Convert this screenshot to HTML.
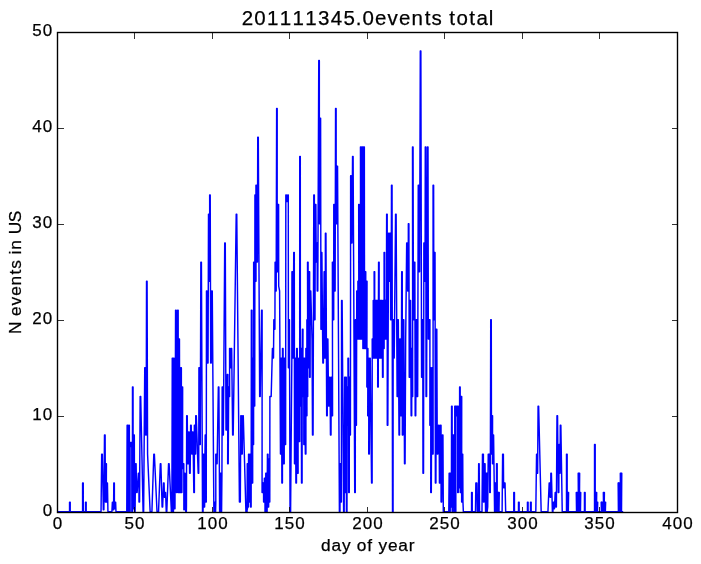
<!DOCTYPE html>
<html><head><meta charset="utf-8"><title>plot</title>
<style>
html,body{margin:0;padding:0;background:#fff;}
body{width:701px;height:564px;position:relative;overflow:hidden;font-family:"Liberation Sans",sans-serif;color:#000;}
svg{position:absolute;left:0;top:0;}
div{position:absolute;white-space:nowrap;}
.t{position:absolute;white-space:nowrap;filter:grayscale(1);-webkit-text-stroke:0.25px #000;}
.t i{display:inline-block;font-style:normal;text-align:center;}
</style></head><body>
<svg width="701" height="564" viewBox="0 0 701 564">
<polyline fill="none" stroke="#0000ff" stroke-width="1.45" stroke-linejoin="round" stroke-linecap="butt" points="57.50,511.70 69.55,511.70 69.56,502.10 70.22,502.10 70.23,511.70 82.58,511.70 82.59,482.90 83.25,482.90 83.26,511.70 85.51,511.70 85.52,502.10 86.18,502.10 86.19,511.70 101.04,511.70 101.68,454.10 102.32,454.10 103.32,509.78 103.88,509.78 104.49,434.90 105.13,434.90 105.36,502.10 105.92,502.10 105.87,463.70 106.43,463.70 106.25,502.10 106.81,502.10 106.89,482.90 107.45,482.90 107.94,511.70 111.90,511.70 112.38,502.10 112.94,502.10 113.02,509.78 113.58,509.78 113.79,482.90 114.35,482.90 114.42,508.82 114.98,508.82 115.06,502.10 115.62,502.10 115.98,511.70 126.77,511.70 127.12,425.30 127.68,425.30 127.76,511.70 128.32,511.70 128.78,425.30 129.34,425.30 129.55,511.70 130.11,511.70 130.06,442.58 130.62,442.58 130.57,446.42 131.13,446.42 131.21,442.58 131.77,442.58 131.85,511.70 132.41,511.70 132.49,386.90 133.05,386.90 133.12,508.82 133.68,508.82 133.76,434.90 134.32,434.90 134.53,511.70 135.09,511.70 135.55,463.70 136.11,463.70 136.57,492.50 137.13,492.50 138.36,473.30 138.92,473.30 139.00,502.10 139.56,502.10 140.15,396.50 140.71,396.50 143.08,511.70 143.64,511.70 144.74,367.70 145.30,367.70 145.64,434.90 146.20,434.90 146.53,281.30 147.09,281.30 147.58,454.10 150.13,511.70 151.92,511.70 153.81,454.10 154.37,454.10 157.02,511.70 158.55,511.70 160.32,463.70 160.88,463.70 162.10,506.90 162.66,506.90 163.51,482.90 164.07,482.90 164.40,497.30 164.96,497.30 165.04,492.50 165.60,492.50 166.25,511.70 166.81,511.70 168.55,463.70 169.11,463.70 171.38,511.70 171.89,511.70 172.25,358.10 172.81,358.10 172.89,511.70 173.45,511.70 173.53,358.10 174.09,358.10 174.42,508.82 174.98,508.82 175.57,310.10 176.13,310.10 176.47,492.50 177.03,492.50 177.61,310.10 178.17,310.10 178.25,492.50 178.81,492.50 178.89,338.90 179.45,338.90 179.78,492.50 180.34,492.50 180.81,367.70 181.37,367.70 181.32,492.50 181.88,492.50 182.08,386.90 182.64,386.90 182.59,468.50 183.15,468.50 183.23,463.70 183.79,463.70 183.87,509.78 184.43,509.78 184.51,473.30 185.07,473.30 185.78,511.70 186.34,511.70 186.45,506.90 186.68,415.70 187.24,415.70 187.70,463.70 188.26,463.70 188.59,432.02 189.15,432.02 189.61,473.30 190.17,473.30 190.64,425.30 191.20,425.30 191.78,454.10 192.34,454.10 192.42,432.02 192.98,432.02 193.83,492.50 194.39,492.50 194.34,425.30 194.90,425.30 195.10,454.10 195.66,454.10 195.74,415.70 196.30,415.70 198.17,473.30 198.73,473.30 198.93,367.70 199.49,367.70 199.70,444.50 200.26,444.50 200.85,262.10 201.41,262.10 202.51,511.70 203.07,511.70 203.40,454.10 203.96,454.10 204.04,506.90 204.60,506.90 204.96,454.10 205.19,434.90 205.75,434.90 205.70,502.10 206.26,502.10 206.47,290.90 207.03,290.90 207.49,362.90 208.05,362.90 208.51,214.10 209.07,214.10 209.15,281.30 209.71,281.30 209.66,194.90 210.22,194.90 210.68,362.90 211.24,362.90 211.70,290.90 212.26,290.90 213.87,511.70 214.43,511.70 214.51,502.10 215.07,502.10 215.02,511.70 215.58,511.70 215.81,502.10 215.79,454.10 216.35,454.10 216.55,463.70 217.11,463.70 218.34,386.90 218.90,386.90 219.62,511.70 220.18,511.70 220.38,473.30 220.94,473.30 221.02,511.70 221.58,511.70 221.94,473.30 222.17,386.90 222.73,386.90 222.81,434.90 223.37,434.90 224.72,242.90 225.28,242.90 226.00,430.10 226.56,430.10 227.28,374.42 227.84,374.42 227.66,463.70 228.22,463.70 228.68,386.90 229.24,386.90 229.06,396.50 229.62,396.50 229.57,348.50 230.13,348.50 230.34,367.70 230.90,367.70 231.11,348.50 231.67,348.50 232.64,434.90 233.20,434.90 236.21,214.10 236.77,214.10 239.43,502.10 240.32,502.10 240.81,415.70 241.37,415.70 241.70,454.10 242.26,454.10 242.72,415.70 243.28,415.70 245.91,511.70 246.47,511.70 246.55,502.10 247.11,502.10 247.47,508.82 246.51,511.70 247.07,511.70 247.27,463.70 247.83,463.70 247.91,506.90 248.47,506.90 248.55,454.10 249.11,454.10 249.19,502.10 249.75,502.10 249.95,454.10 250.51,454.10 250.59,506.90 251.15,506.90 251.36,310.10 251.92,310.10 252.12,482.90 252.68,482.90 252.64,358.10 253.20,358.10 253.02,444.50 253.58,444.50 253.66,262.10 254.22,262.10 254.17,406.10 254.73,406.10 254.93,194.90 255.49,194.90 255.44,281.30 256.00,281.30 255.95,185.30 256.51,185.30 256.85,262.10 257.41,262.10 257.74,137.30 258.30,137.30 259.66,396.50 260.22,396.50 261.57,310.10 262.13,310.10 262.08,492.50 262.64,492.50 262.98,482.90 263.54,482.90 263.61,502.10 264.17,502.10 264.38,478.10 264.94,478.10 265.02,511.70 265.58,511.70 265.78,473.30 266.34,473.30 266.55,511.70 267.11,511.70 267.44,454.10 268.00,454.10 268.08,506.90 268.64,506.90 268.72,458.90 269.28,458.90 269.23,502.10 269.79,502.10 269.89,396.50 271.17,396.50 272.42,348.50 272.98,348.50 272.93,358.10 273.49,358.10 273.83,319.70 274.39,319.70 274.34,329.30 274.90,329.30 275.10,262.10 275.66,262.10 275.61,290.90 276.17,290.90 276.64,108.50 277.20,108.50 277.15,271.70 277.71,271.70 278.04,204.50 278.60,204.50 278.70,286.10 279.60,290.90 280.47,454.10 281.03,454.10 280.98,358.10 281.54,358.10 281.87,482.90 282.43,482.90 282.51,348.50 283.07,348.50 283.66,463.70 284.22,463.70 284.30,358.10 284.86,358.10 285.06,444.50 285.62,444.50 285.83,194.90 286.39,194.90 286.72,201.62 287.28,201.62 287.74,194.90 288.30,194.90 288.38,367.70 288.94,367.70 288.89,319.70 289.45,319.70 290.04,511.70 290.60,511.70 291.85,358.10 291.96,271.70 292.52,271.70 292.59,358.10 293.15,358.10 293.74,252.50 294.30,252.50 294.51,463.70 295.07,463.70 295.02,358.10 295.58,358.10 295.68,434.90 295.91,482.90 296.47,482.90 296.58,358.10 296.68,348.50 297.24,348.50 297.47,425.30 297.57,473.30 298.13,473.30 297.96,367.70 298.52,367.70 298.34,396.50 298.90,396.50 298.72,358.10 299.28,358.10 299.11,441.62 299.67,441.62 299.74,156.50 300.30,156.50 300.38,406.10 300.94,406.10 300.76,348.50 301.32,348.50 301.43,425.30 301.53,482.90 302.09,482.90 302.19,358.10 302.42,329.30 302.98,329.30 302.81,396.50 303.37,396.50 303.19,358.10 303.75,358.10 303.83,444.50 304.39,444.50 304.21,358.10 304.77,358.10 304.75,367.70 305.13,434.90 305.36,454.10 305.92,454.10 305.87,348.50 306.43,348.50 306.38,415.70 306.94,415.70 306.89,319.70 307.45,319.70 307.15,396.50 307.71,396.50 307.53,262.10 308.09,262.10 308.17,367.70 308.73,367.70 309.06,271.70 309.62,271.70 309.57,377.30 310.13,377.30 310.21,290.90 310.77,290.90 312.02,338.90 312.51,434.90 313.07,434.90 313.79,194.90 314.35,194.90 314.43,319.70 314.99,319.70 315.32,204.50 315.88,204.50 316.21,262.10 316.77,262.10 316.60,242.90 317.16,242.90 317.23,290.90 317.79,290.90 318.77,60.50 319.33,60.50 319.40,223.70 319.96,223.70 320.04,118.10 320.60,118.10 320.94,329.30 321.50,329.30 321.32,252.50 321.88,252.50 322.85,362.90 323.41,362.90 324.13,271.70 324.69,271.70 324.64,358.10 325.20,358.10 325.40,233.30 325.96,233.30 326.68,415.70 327.24,415.70 327.32,338.90 327.88,338.90 328.60,406.10 329.16,406.10 329.44,377.30 330.00,377.30 330.46,434.90 331.02,434.90 331.23,377.30 331.79,377.30 332.00,415.70 332.56,415.70 332.38,262.10 332.94,262.10 333.15,319.70 333.71,319.70 333.78,204.50 334.34,204.50 334.55,290.90 335.11,290.90 335.57,108.50 336.13,108.50 336.21,223.70 336.77,223.70 336.98,166.10 337.54,166.10 339.40,511.70 339.96,511.70 340.17,463.70 340.73,463.70 340.81,502.10 341.37,502.10 341.57,300.50 342.13,300.50 343.61,511.70 344.17,511.70 344.64,377.30 345.20,377.30 345.15,492.50 345.71,492.50 345.78,377.30 346.34,377.30 346.42,511.70 346.98,511.70 347.19,386.90 347.75,386.90 347.57,425.30 348.13,425.30 347.96,358.10 348.52,358.10 348.72,492.50 349.28,492.50 349.36,377.30 349.92,377.30 349.87,434.90 350.43,434.90 350.64,175.70 351.20,175.70 351.40,242.90 351.96,242.90 352.55,156.50 353.11,156.50 354.72,492.50 355.28,492.50 355.36,319.70 355.92,319.70 355.87,425.30 356.43,425.30 356.76,290.90 357.32,290.90 357.40,338.90 357.96,338.90 357.91,281.30 358.47,281.30 358.30,338.90 358.86,338.90 358.68,204.50 359.24,204.50 359.19,338.90 359.75,338.90 359.70,271.70 360.26,271.70 360.08,338.90 360.64,338.90 360.47,146.90 361.03,146.90 361.23,338.90 361.79,338.90 362.02,262.10 362.13,146.90 362.69,146.90 362.89,348.50 363.45,348.50 363.68,271.70 363.79,146.90 364.35,146.90 364.55,348.50 365.11,348.50 365.19,271.70 365.75,271.70 365.83,348.50 366.39,348.50 366.47,281.30 367.03,281.30 366.85,386.90 367.41,386.90 367.36,348.50 367.92,348.50 367.74,415.70 368.30,415.70 368.25,358.10 368.81,358.10 368.76,454.10 369.32,454.10 369.66,358.10 370.22,358.10 371.57,482.90 372.13,482.90 372.21,338.90 372.77,338.90 372.72,358.10 373.28,358.10 373.23,300.50 373.79,300.50 373.74,358.10 374.30,358.10 374.13,271.70 374.69,271.70 374.64,358.10 375.20,358.10 375.15,300.50 375.71,300.50 375.66,358.10 376.22,358.10 376.17,300.50 376.73,300.50 376.68,358.10 377.24,358.10 377.19,300.50 377.75,300.50 377.70,386.90 378.26,386.90 378.36,329.30 378.59,262.10 379.15,262.10 379.11,358.10 379.67,358.10 379.62,300.50 380.18,300.50 380.13,358.10 380.69,358.10 380.64,300.50 381.20,300.50 381.15,358.10 381.71,358.10 381.66,300.50 382.22,300.50 382.45,348.50 382.55,377.30 383.11,377.30 383.06,300.50 383.62,300.50 383.57,348.50 384.13,348.50 384.08,252.50 384.64,252.50 384.59,338.90 385.15,338.90 385.11,300.50 385.67,300.50 385.62,338.90 386.18,338.90 386.41,300.50 386.64,214.10 387.20,214.10 387.28,425.30 387.84,425.30 388.55,233.30 389.11,233.30 389.32,281.30 389.88,281.30 389.96,233.30 390.52,233.30 390.60,319.70 391.16,319.70 391.49,185.30 392.05,185.30 392.51,511.70 393.07,511.70 393.15,319.70 393.71,319.70 393.66,358.10 394.22,358.10 395.57,214.10 396.13,214.10 397.11,396.50 397.67,396.50 397.74,319.70 398.30,319.70 399.02,434.90 399.58,434.90 399.79,338.90 400.35,338.90 400.68,415.70 401.24,415.70 401.70,271.70 402.26,271.70 402.34,434.90 402.90,434.90 403.23,319.70 403.79,319.70 404.51,463.70 405.07,463.70 405.68,338.90 406.68,242.90 407.24,242.90 407.70,290.90 408.26,290.90 408.34,223.70 408.90,223.70 409.23,377.30 409.79,377.30 410.00,300.50 410.56,300.50 411.15,415.70 411.71,415.70 411.74,348.50 412.30,348.50 412.12,396.50 412.68,396.50 412.51,146.90 413.07,146.90 413.40,319.70 413.96,319.70 414.29,262.10 414.85,262.10 415.19,415.70 415.75,415.70 416.21,319.70 416.77,319.70 417.10,396.50 417.66,396.50 418.25,185.30 418.81,185.30 419.02,271.70 419.58,271.70 420.30,50.90 420.86,50.90 421.57,377.30 422.13,377.30 422.21,319.70 422.77,319.70 422.98,473.30 423.54,473.30 423.87,242.90 424.43,242.90 424.51,281.30 425.07,281.30 425.27,146.90 425.83,146.90 426.04,396.50 426.60,396.50 426.96,271.70 427.44,146.90 428.00,146.90 428.34,338.90 428.90,338.90 429.36,319.70 429.92,319.70 429.87,425.30 430.43,425.30 430.25,367.70 430.81,367.70 430.76,492.50 431.32,492.50 431.78,367.70 432.34,367.70 432.55,454.10 433.11,454.10 433.06,185.30 433.62,185.30 433.83,319.70 434.39,319.70 434.47,252.50 435.03,252.50 435.36,482.90 435.92,482.90 436.25,329.30 436.81,329.30 437.27,454.10 437.83,454.10 438.55,425.30 439.11,425.30 439.44,482.90 440.00,482.90 440.47,425.30 441.03,425.30 441.10,502.10 441.66,502.10 442.38,434.90 442.94,434.90 443.30,511.70 448.79,511.70 449.15,473.30 449.71,473.30 449.66,511.70 450.22,511.70 450.30,473.30 450.86,473.30 450.81,506.90 451.37,506.90 451.57,406.10 452.13,406.10 452.21,511.70 452.77,511.70 452.72,434.90 453.28,434.90 453.23,506.90 453.79,506.90 453.87,434.90 454.43,434.90 454.25,511.70 454.81,511.70 454.76,406.10 455.32,406.10 455.28,511.70 455.84,511.70 455.79,406.10 456.35,406.10 456.42,415.70 456.98,415.70 457.06,406.10 457.62,406.10 457.70,492.50 458.26,492.50 458.59,406.10 459.15,406.10 458.98,487.70 459.54,487.70 459.62,386.90 460.18,386.90 460.25,492.50 460.81,492.50 461.15,396.50 461.71,396.50 461.66,502.10 462.22,502.10 462.17,454.10 462.73,454.10 462.96,502.10 463.34,511.70 471.56,511.70 471.57,492.50 472.23,492.50 472.24,511.70 475.47,511.70 475.85,482.90 476.88,482.90 477.26,511.70 478.41,511.70 478.66,463.70 479.17,463.70 479.56,511.70 481.98,511.70 482.49,454.10 483.39,454.10 483.49,502.10 484.05,502.10 484.28,463.70 485.05,463.70 485.43,502.10 485.57,511.70 486.13,511.70 485.59,473.30 486.15,473.30 486.11,511.22 486.67,511.22 486.62,473.30 487.18,473.30 486.64,511.70 487.20,511.70 487.73,506.90 488.24,454.10 489.51,454.10 489.74,492.50 490.30,492.50 490.72,319.70 491.28,319.70 491.49,454.10 492.05,454.10 492.00,415.70 492.56,415.70 492.51,463.70 493.07,463.70 493.02,434.90 493.58,434.90 494.57,511.70 494.87,511.70 494.61,482.90 495.17,482.90 494.87,511.22 495.43,511.22 495.13,482.90 495.69,482.90 495.43,511.70 496.53,511.70 496.54,463.70 497.20,463.70 497.21,511.70 498.19,511.70 497.93,492.50 498.49,492.50 498.32,511.22 498.88,511.22 498.70,492.50 499.26,492.50 499.00,511.70 502.11,511.70 502.62,454.10 503.38,454.10 503.61,487.70 504.17,487.70 504.41,482.90 505.04,482.90 505.68,511.70 513.77,511.70 513.78,492.50 514.44,492.50 514.45,511.70 518.49,511.70 518.50,502.10 519.16,502.10 519.17,511.70 527.43,511.70 527.44,502.10 528.10,502.10 528.11,511.70 530.49,511.70 530.50,502.10 531.16,502.10 531.17,511.70 535.81,511.70 536.55,454.10 537.11,454.10 537.06,473.30 537.62,473.30 538.08,406.10 538.64,406.10 541.17,511.70 547.94,511.70 549.19,482.90 549.75,482.90 550.08,497.30 550.64,497.30 550.85,473.30 551.41,473.30 552.38,511.70 552.94,511.70 553.28,502.10 553.84,502.10 553.91,508.82 554.47,508.82 555.19,492.50 555.75,492.50 555.83,506.90 556.39,506.90 556.98,415.70 557.54,415.70 558.26,492.50 558.82,492.50 559.02,444.50 559.58,444.50 559.53,473.30 560.09,473.30 560.30,425.30 560.86,425.30 562.24,511.70 566.49,511.70 566.50,454.10 567.16,454.10 567.17,511.70 568.28,511.70 568.02,492.50 568.58,492.50 568.32,511.70 576.53,511.70 576.27,492.50 576.83,492.50 576.53,511.22 577.09,511.22 576.79,492.50 577.35,492.50 577.09,511.70 578.45,511.70 578.19,473.30 578.75,473.30 578.64,511.22 579.20,511.22 579.08,473.30 579.64,473.30 579.38,511.70 580.43,511.70 580.17,492.50 580.73,492.50 580.47,511.70 584.45,511.70 584.46,492.50 585.12,492.50 585.13,511.70 594.53,511.70 594.54,444.50 595.20,444.50 595.21,511.70 596.39,511.70 596.13,492.50 596.69,492.50 596.43,511.70 597.41,511.70 597.15,502.10 597.71,502.10 597.45,511.70 601.43,511.70 601.17,502.10 601.73,502.10 601.49,511.22 602.05,511.22 601.81,502.10 602.37,502.10 602.11,511.70 603.60,511.70 603.34,492.50 603.90,492.50 603.59,511.22 604.15,511.22 603.85,492.50 604.41,492.50 604.15,511.70 605.32,511.70 605.06,502.10 605.62,502.10 605.36,511.70 618.41,511.70 618.15,482.90 618.71,482.90 618.47,511.22 619.03,511.22 618.79,482.90 619.35,482.90 619.09,511.70 620.58,511.70 620.32,473.30 620.88,473.30 620.76,511.22 621.32,511.22 621.21,473.30 621.77,473.30 621.51,511.70 623.20,511.70"/>
<g stroke="#000" stroke-opacity="0.8" stroke-width="1" shape-rendering="crispEdges"><line x1="134.5" y1="512.0" x2="134.5" y2="506.5"/><line x1="134.5" y1="33.0" x2="134.5" y2="38.5"/><line x1="212.5" y1="512.0" x2="212.5" y2="506.5"/><line x1="212.5" y1="33.0" x2="212.5" y2="38.5"/><line x1="289.5" y1="512.0" x2="289.5" y2="506.5"/><line x1="289.5" y1="33.0" x2="289.5" y2="38.5"/><line x1="367.5" y1="512.0" x2="367.5" y2="506.5"/><line x1="367.5" y1="33.0" x2="367.5" y2="38.5"/><line x1="444.5" y1="512.0" x2="444.5" y2="506.5"/><line x1="444.5" y1="33.0" x2="444.5" y2="38.5"/><line x1="522.5" y1="512.0" x2="522.5" y2="506.5"/><line x1="522.5" y1="33.0" x2="522.5" y2="38.5"/><line x1="599.5" y1="512.0" x2="599.5" y2="506.5"/><line x1="599.5" y1="33.0" x2="599.5" y2="38.5"/><line x1="58.0" y1="416.5" x2="63.5" y2="416.5"/><line x1="677.0" y1="416.5" x2="671.5" y2="416.5"/><line x1="58.0" y1="320.5" x2="63.5" y2="320.5"/><line x1="677.0" y1="320.5" x2="671.5" y2="320.5"/><line x1="58.0" y1="224.5" x2="63.5" y2="224.5"/><line x1="677.0" y1="224.5" x2="671.5" y2="224.5"/><line x1="58.0" y1="128.5" x2="63.5" y2="128.5"/><line x1="677.0" y1="128.5" x2="671.5" y2="128.5"/></g>
<rect x="57.5" y="32.5" width="620.0" height="480.0" fill="none" stroke="#000" stroke-width="1.39"/>
</svg>
<div class="t" style="left:240.98px;top:5.80px;font-size:20.5px;line-height:24px"><i style="width:12.72px">2</i><i style="width:12.72px">0</i><i style="width:12.72px">1</i><i style="width:12.72px">1</i><i style="width:12.72px">1</i><i style="width:12.72px">1</i><i style="width:12.72px">3</i><i style="width:12.72px">4</i><i style="width:12.72px">5</i><i style="width:6.36px">.</i><i style="width:12.72px">0</i><i style="width:12.30px">e</i><i style="width:11.84px">v</i><i style="width:12.30px">e</i><i style="width:12.68px">n</i><i style="width:7.84px">t</i><i style="width:10.42px">s</i><i style="width:6.36px">&nbsp;</i><i style="width:7.84px">t</i><i style="width:12.24px">o</i><i style="width:7.84px">t</i><i style="width:12.26px">a</i><i style="width:5.56px">l</i></div>
<div class="t" style="left:320.53px;top:534.51px;font-size:17.3px;line-height:20px"><i style="width:10.59px">d</i><i style="width:10.22px">a</i><i style="width:9.87px">y</i><i style="width:5.30px">&nbsp;</i><i style="width:10.20px">o</i><i style="width:5.87px">f</i><i style="width:5.30px">&nbsp;</i><i style="width:9.87px">y</i><i style="width:10.25px">e</i><i style="width:10.22px">a</i><i style="width:6.85px">r</i></div>
<div class="t" style="left:5.31px;top:333.76px;font-size:17.3px;line-height:20px;transform:rotate(-90deg);transform-origin:0 0"><i style="width:12.47px">N</i><i style="width:5.30px">&nbsp;</i><i style="width:10.25px">e</i><i style="width:9.87px">v</i><i style="width:10.25px">e</i><i style="width:10.57px">n</i><i style="width:6.53px">t</i><i style="width:8.69px">s</i><i style="width:5.30px">&nbsp;</i><i style="width:4.63px">i</i><i style="width:10.57px">n</i><i style="width:5.30px">&nbsp;</i><i style="width:12.20px">U</i><i style="width:10.59px">S</i></div>
<div class="t" style="left:52.20px;top:514.31px;font-size:17.0px;line-height:20px"><i style="width:10.60px">0</i></div>
<div class="t" style="left:123.90px;top:514.31px;font-size:17.0px;line-height:20px"><i style="width:10.60px">5</i><i style="width:10.60px">0</i></div>
<div class="t" style="left:196.60px;top:514.31px;font-size:17.0px;line-height:20px"><i style="width:10.60px">1</i><i style="width:10.60px">0</i><i style="width:10.60px">0</i></div>
<div class="t" style="left:273.60px;top:514.31px;font-size:17.0px;line-height:20px"><i style="width:10.60px">1</i><i style="width:10.60px">5</i><i style="width:10.60px">0</i></div>
<div class="t" style="left:351.60px;top:514.31px;font-size:17.0px;line-height:20px"><i style="width:10.60px">2</i><i style="width:10.60px">0</i><i style="width:10.60px">0</i></div>
<div class="t" style="left:428.60px;top:514.31px;font-size:17.0px;line-height:20px"><i style="width:10.60px">2</i><i style="width:10.60px">5</i><i style="width:10.60px">0</i></div>
<div class="t" style="left:506.60px;top:514.31px;font-size:17.0px;line-height:20px"><i style="width:10.60px">3</i><i style="width:10.60px">0</i><i style="width:10.60px">0</i></div>
<div class="t" style="left:583.60px;top:514.31px;font-size:17.0px;line-height:20px"><i style="width:10.60px">3</i><i style="width:10.60px">5</i><i style="width:10.60px">0</i></div>
<div class="t" style="left:661.60px;top:514.31px;font-size:17.0px;line-height:20px"><i style="width:10.60px">4</i><i style="width:10.60px">0</i><i style="width:10.60px">0</i></div>
<div class="t" style="left:42.30px;top:500.81px;font-size:17.0px;line-height:20px"><i style="width:10.60px">0</i></div>
<div class="t" style="left:31.70px;top:404.81px;font-size:17.0px;line-height:20px"><i style="width:10.60px">1</i><i style="width:10.60px">0</i></div>
<div class="t" style="left:31.70px;top:308.81px;font-size:17.0px;line-height:20px"><i style="width:10.60px">2</i><i style="width:10.60px">0</i></div>
<div class="t" style="left:31.70px;top:212.81px;font-size:17.0px;line-height:20px"><i style="width:10.60px">3</i><i style="width:10.60px">0</i></div>
<div class="t" style="left:31.70px;top:116.81px;font-size:17.0px;line-height:20px"><i style="width:10.60px">4</i><i style="width:10.60px">0</i></div>
<div class="t" style="left:31.70px;top:20.81px;font-size:17.0px;line-height:20px"><i style="width:10.60px">5</i><i style="width:10.60px">0</i></div>
</body></html>
